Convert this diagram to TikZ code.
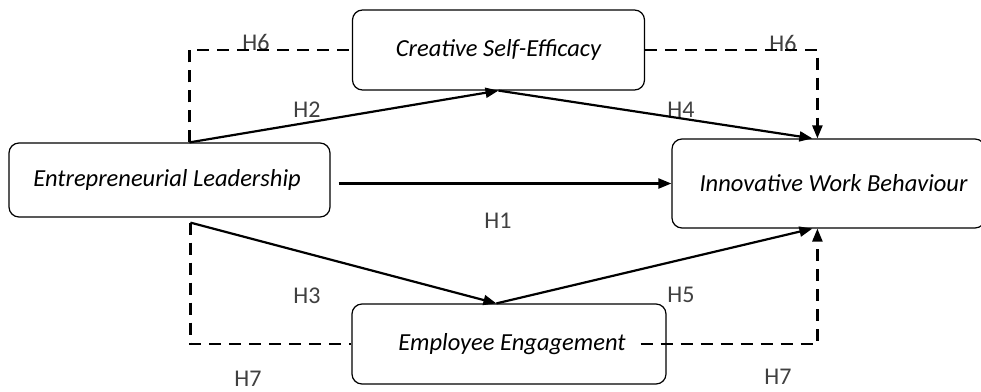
\documentclass[tikz,border=0pt]{standalone}
\usepackage{fontspec}
\setmainfont{Carlito}
\usetikzlibrary{arrows.meta,calc}
\begin{document}
\begin{tikzpicture}[x=1pt,y=-1pt,
  box/.style={draw, line width=1.2pt, rounded corners=10pt, font=\fontsize{24.5}{28}\selectfont\itshape, inner sep=0pt},
  lab/.style={font=\fontsize{24}{28}\selectfont, text=black!75, inner sep=0pt},
  tip/.style={-{Triangle[length=13pt,width=10pt]}},
  arr/.style={line width=2.2pt, tip},
  dsh/.style={line width=2.4pt, dash pattern=on 12pt off 8pt},
]
\fill[white] (0,0) rectangle (981,391);
\useasboundingbox (0,0) rectangle (981,391);
% labels
\node[lab] (h6a) at (256,42) {H6};
\node[lab] (h6b) at (783,43) {H6};
\node[lab] (h2) at (307,110) {H2};
\node[lab] (h4) at (681,110) {H4};
\node[lab] (h1) at (498,221) {H1};
\node[lab] (h3) at (307,296) {H3};
\node[lab] (h5) at (681,295) {H5};
\node[lab] (h7a) at (248,379) {H7};
\node[lab] (h7b) at (778,377) {H7};
% boxes
\node[box, minimum width=321pt, minimum height=74pt] (el) at (169.5,180) {Entrepreneurial Leadership\hspace*{5pt}};
\node[box, minimum width=292pt, minimum height=80pt] (cse) at (498.5,50) {Creative Self-Efficacy};
\node[box, minimum width=314pt, minimum height=80pt] (ee) at (509,344) {\hspace*{6pt}Employee Engagement};
\node[box, minimum width=313pt, minimum height=89pt] (iwb) at (828.5,183.5) {\hspace*{10pt}Innovative Work Behaviour};
% anchor points
\coordinate (elT) at ([xshift=181pt]el.north west);
\coordinate (elB) at ([xshift=182pt,yshift=-5pt]el.south west);
\coordinate (cseB) at (cse.south);
\coordinate (eeT) at ([xshift=145pt]ee.north west);
\coordinate (iwbTa) at ([xshift=141pt]iwb.north west);
\coordinate (iwbTb) at ([xshift=146pt]iwb.north west);
\coordinate (iwbBa) at ([xshift=141pt]iwb.south west);
\coordinate (iwbBb) at ([xshift=146pt]iwb.south west);
\coordinate (h1s) at ($(el.east |- iwb.west)+(8,0)$);
\coordinate (eeR) at ($(ee.east)+(-26,0)$);
% dashed paths
\draw[dsh] (elT) |- (cse.west);
\draw[dsh, tip] (cse.east) -| (iwbTb);
\draw[dsh] (elB) |- (ee.west);
\draw[dsh, tip] (eeR) -| (iwbBb);
% solid arrows
\draw[arr] (elT) -- (cseB);
\draw[arr] (cseB) -- (iwbTa);
\draw[arr] (elB) -- (eeT);
\draw[arr] (eeT) -- (iwbBa);
\draw[arr] (h1s) -- (iwb.west);
\end{tikzpicture}
\end{document}
